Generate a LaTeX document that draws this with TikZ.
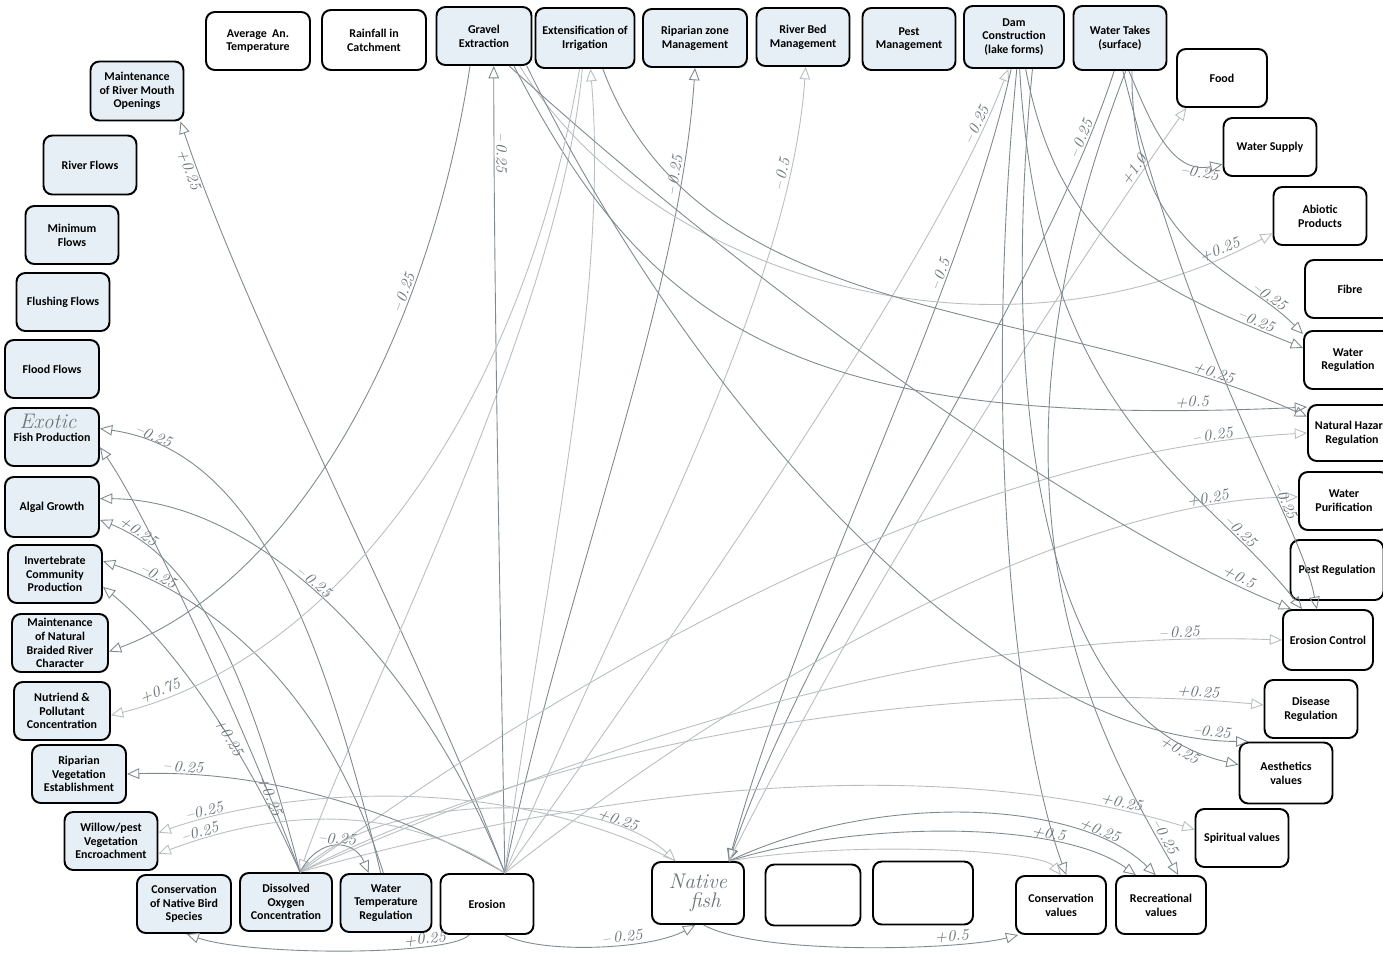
\documentclass[tikz,border=0pt]{standalone}
\usepackage{fontspec}
\usetikzlibrary{arrows.meta}
\newfontfamily\boxsans{Carlito}
\definecolor{paleblue}{HTML}{E6EFF5}
\definecolor{pencil}{HTML}{7F898E}
\tikzset{
  box/.style={draw, line width=1.1pt, rounded corners=5pt, fill=white, align=center,
    minimum width=1.86cm, minimum height=1.16cm, inner sep=1pt,
    font=\boxsans\bfseries\fontsize{6.8}{7.8}\selectfont},
  pale/.style={box, fill=paleblue},
  link/.style={draw=pencil, line width=0.5pt, -{Triangle[open,length=7pt,width=6pt]}},
  faint/.style={link, draw=pencil!55},
  lab/.style={text=pencil!85!black, font=\fontsize{9}{9}\selectfont\itshape, sloped, inner sep=1pt},
  hand/.style={text=pencil!85!black, font=\fontsize{12}{12}\selectfont\itshape}
}
\begin{document}
\begin{tikzpicture}[x=0.02cm, y=-0.02cm]
    \clip (0,0) rectangle (1383,957);
    \fill[white] (0,0) rectangle (1383,957);
    % top row
    \node[box, minimum width=2.08cm] (avgtemp) at (258,41) {Average\ \ An.\\Temperature};
    \node[box, minimum width=2.08cm, minimum height=1.2cm] (rainfall) at (374,40) {Rainfall in\\Catchment};
    \node[pale, minimum width=1.9cm] (gravel) at (484,36) {Gravel\\Extraction};
    \node[pale, minimum width=1.98cm, minimum height=1.2cm] (irrig) at (585,38) {Extensification of\\Irrigation};
    \node[pale, minimum width=2.08cm] (ripzone) at (695,38) {Riparian zone\\Management};
    \node[pale] (riverbed) at (803,37) {River Bed\\Management};
    \node[pale, minimum height=1.24cm] (pestmgmt) at (909,39) {Pest\\Management};
    \node[pale, minimum width=2cm, minimum height=1.24cm] (dam) at (1014,37) {Dam\\Construction\\(lake forms)};
    \node[pale, minimum height=1.28cm] (watertakes) at (1120,38) {Water Takes\\(surface)};
    % right side
    \node[box, minimum width=1.8cm] (food) at (1222,78) {Food};
    \node[box] (watersupply) at (1270,147) {Water Supply};
    \node[box] (abiotic) at (1320,216) {Abiotic\\Products};
    \node[box, minimum width=1.8cm] (fibre) at (1350,289) {Fibre};
    \node[box, minimum width=1.76cm] (waterreg) at (1348,360) {Water\\Regulation};
    \node[box, minimum width=1.76cm, minimum height=1.12cm] (hazard) at (1352,433) {Natural Hazard\\Regulation};
    \node[box, minimum width=1.8cm] (purif) at (1344,501) {Water\\Purification};
    \node[box, minimum height=1.2cm] (pestreg) at (1337,570) {Pest Regulation};
    \node[box, minimum width=1.8cm, minimum height=1.2cm] (erosionctl) at (1328,640) {Erosion Control};
    \node[box] (disease) at (1311,709) {Disease\\Regulation};
    \node[box, minimum height=1.22cm] (aesthetic) at (1286,773) {Aesthetics\\values};
    \node[box] (spiritual) at (1242,838) {Spiritual values};
    \node[box, minimum width=1.8cm] (recreation) at (1161,905) {Recreational\\values};
    \node[box, minimum width=1.8cm] (consval) at (1061,905) {Conservation\\values};
    % bottom row
    \node[box, minimum width=2cm, minimum height=1.26cm] (spare2) at (923,893) {};
    \node[box, minimum width=1.9cm, minimum height=1.22cm] (spare1) at (813,895) {};
    \node[box, minimum width=1.84cm, minimum height=1.24cm, font=\fontsize{12}{11}\selectfont\itshape, text=pencil!85!black] (nativefish) at (698,893) {Native\\\ \ fish};
    \node[box, minimum height=1.2cm] (erosion) at (487,904) {Erosion};
    \node[pale, minimum width=1.82cm] (watertemp) at (386,903) {Water\\Temperature\\Regulation};
    \node[pale, minimum width=1.84cm] (oxygen) at (286,902) {Dissolved\\Oxygen\\Concentration};
    \node[pale, minimum width=1.88cm] (bird) at (184,904) {Conservation\\of Native Bird\\Species};
    % left side
    \node[pale] (willow) at (111,841) {Willow/pest\\Vegetation\\Encroachment};
    \node[pale, minimum width=1.88cm] (ripveg) at (79,774) {Riparian\\Vegetation\\Establishment};
    \node[pale, minimum width=1.92cm] (nutrient) at (62,711) {Nutriend \&\\Pollutant\\Concentration};
    \node[pale, minimum width=1.92cm] (braided) at (60,643) {Maintenance\\of Natural\\Braided River\\Character};
    \node[pale, minimum width=1.88cm] (invert) at (55,574) {Invertebrate\\Community\\Production};
    \node[pale, minimum width=1.88cm, minimum height=1.2cm] (algal) at (52,507) {Algal Growth};
    \node[pale, minimum width=1.88cm] (exotic) at (52,437) {Fish Production};
    \node[hand] (exoticnote) at (48,421) {Exotic};
    \node[pale, minimum width=1.88cm] (flood) at (52,369) {Flood Flows};
    \node[pale] (flushing) at (63,302) {Flushing Flows};
    \node[pale] (minflows) at (72,235) {Minimum\\Flows};
    \node[pale, minimum height=1.18cm] (riverflows) at (90,165) {River Flows};
    \node[pale, minimum height=1.18cm] (mouth) at (137,91) {Maintenance\\of River Mouth\\Openings};

    % links to the top boxes
    \draw[link] (erosion.60) .. controls (420,650) and (250,330) .. (mouth.-35) node[lab,pos=0.93,below]{+0.25};
    \draw[link] (erosion.60) .. controls (500,600) and (494,300) .. (gravel.-72) node[lab,pos=0.88,above]{--\,0.25};
    \draw[link] (gravel.-115) .. controls (430,330) and (300,580) .. (braided.-10) node[lab,pos=0.3,above]{--\,0.25};
    \draw[faint] (erosion.60) .. controls (540,600) and (610,300) .. (irrig.-80);
    \draw[faint] (irrig.-95) .. controls (560,320) and (360,700) .. (oxygen.65);
    \draw[link] (erosion.60) .. controls (560,600) and (680,300) .. (ripzone.south) node[lab,pos=0.85,above]{--\,0.25};
    \draw[faint] (erosion.60) .. controls (620,600) and (790,300) .. (riverbed.-85) node[lab,pos=0.85,above]{--\,0.5};
    \draw[faint] (erosion.60) .. controls (700,600) and (940,250) .. (dam.-100) node[lab,pos=0.9,above]{--\,0.25};
    \draw[link] (dam.-95) .. controls (960,300) and (800,600) .. (nativefish.46) node[lab,pos=0.28,above]{--\,0.5};
    \draw[link] (watertakes.-100) .. controls (1040,300) and (820,600) .. (nativefish.46) node[lab,pos=0.1,above]{--\,0.25};
    \draw[link] (dam.-85) .. controls (980,450) and (1020,750) .. (consval.80);

    % links to the right side
    \draw[faint] (nativefish.46) .. controls (880,560) and (1080,260) .. (food.-140) node[lab,pos=0.87,above]{+1.0};
    \draw[link] (watertakes.-75) .. controls (1150,120) and (1170,175) .. (watersupply.-160) node[lab,pos=0.85,below]{--0.25};
    \draw[faint] (gravel.-40) .. controls (650,280) and (1000,380) .. (abiotic.-160) node[lab,pos=0.94,above]{+0.25};
    \draw[link] (watertakes.-70) .. controls (1130,250) and (1240,270) .. (waterreg.150) node[lab,pos=0.82,above]{--0.25};
    \draw[link] (dam.-70) .. controls (1060,250) and (1160,290) .. (waterreg.165) node[lab,pos=0.88,above]{--0.25};
    \draw[link] (gravel.-45) .. controls (650,330) and (800,430) .. (hazard.150) node[lab,pos=0.92,above]{+0.5};
    \draw[link] (irrig.-60) .. controls (700,330) and (1050,300) .. (hazard.160) node[lab,pos=0.88,above]{+0.25};
    \draw[faint] (oxygen.65) .. controls (650,620) and (1000,450) .. (hazard.180) node[lab,pos=0.9,above]{--\,0.25};
    \draw[faint] (erosion.60) .. controls (800,640) and (1100,500) .. (purif.175) node[lab,pos=0.86,above]{+0.25};
    \draw[link] (watertakes.-85) .. controls (1200,380) and (1300,520) .. (erosionctl.110) node[lab,pos=0.68,above]{--0.25};
    \draw[link] (dam.-80) .. controls (1040,420) and (1200,480) .. (erosionctl.130) node[lab,pos=0.8,above]{--0.25};
    \draw[link] (gravel.-50) .. controls (800,330) and (1120,540) .. (erosionctl.140) node[lab,pos=0.9,above]{+0.5};
    \draw[faint] (oxygen.65) .. controls (700,700) and (1000,630) .. (erosionctl.west) node[lab,pos=0.88,above]{--\,0.25};
    \draw[faint] (oxygen.65) .. controls (600,720) and (1000,680) .. (disease.175) node[lab,pos=0.92,above]{+0.25};
    \draw[link] (gravel.-35) .. controls (700,420) and (1000,740) .. (aesthetic.140) node[lab,pos=0.95,above]{--0.25};
    \draw[link] (dam.-60) .. controls (1000,400) and (1040,720) .. (aesthetic.170) node[lab,pos=0.9,below]{+0.25};
    \draw[faint] (oxygen.65) .. controls (700,760) and (1000,770) .. (spiritual.170) node[lab,pos=0.88,above]{+0.25};
    \draw[link] (watertakes.-80) .. controls (960,500) and (1100,740) .. (recreation.60) node[lab,pos=0.92,above]{--0.25};
    \draw[link] (nativefish.46) .. controls (880,790) and (1080,800) .. (recreation.100) node[lab,pos=0.8,above]{+0.25};
    \draw[link] (nativefish.46) .. controls (860,820) and (1060,820) .. (recreation.130) node[lab,pos=0.72,above]{+0.5};
    \draw[faint] (nativefish.46) .. controls (850,840) and (1040,850) .. (consval.north);

    % links along the bottom
    \draw[link] (nativefish.-80) .. controls (760,956) and (960,950) .. (consval.-145) node[lab,pos=0.75,above]{+0.5};
    \draw[link] (erosion.-60) .. controls (540,954) and (650,950) .. (nativefish.-95) node[lab,pos=0.62,above]{--\,0.25};
    \draw[link] (erosion.-120) .. controls (450,956) and (250,956) .. (bird.-85) node[lab,pos=0.25,above]{+0.25};
    \draw[link] (oxygen.65) .. controls (320,835) and (355,840) .. (watertemp.120) node[lab,pos=0.5,above]{--0.25};
    \draw[faint] (oxygen.65) .. controls (380,790) and (600,790) .. (nativefish.125) node[lab,pos=0.8,above]{+0.25};

    % links to the left side
    \draw[link] (watertemp.100) .. controls (320,620) and (250,450) .. (exotic.10) node[lab,pos=0.88,above]{--0.25};
    \draw[link] (oxygen.65) .. controls (250,740) and (150,520) .. (exotic.-12) node[lab,pos=0.22,right]{+0.25};
    \draw[link] (erosion.60) .. controls (420,660) and (260,500) .. (algal.10) node[lab,pos=0.55,above]{--\,0.25};
    \draw[link] (oxygen.65) .. controls (250,680) and (200,560) .. (algal.-15) node[lab,pos=0.88,above]{+0.25};
    \draw[link] (watertemp.95) .. controls (330,700) and (220,600) .. (invert.15) node[lab,pos=0.85,above]{--0.25};
    \draw[link] (oxygen.65) .. controls (250,760) and (180,650) .. (invert.-15) node[lab,pos=0.35,left]{+0.25};
    \draw[faint] (irrig.-100) .. controls (520,420) and (330,660) .. (nutrient.-5) node[lab,pos=0.92,above]{+0.75};
    \draw[link] (erosion.60) .. controls (380,800) and (250,770) .. (ripveg.0) node[lab,pos=0.85,above]{--\,0.25};
    \draw[faint] (nativefish.125) .. controls (500,770) and (280,790) .. (willow.10) node[lab,pos=0.88,above]{--0.25};
    \draw[faint] (erosion.60) .. controls (380,790) and (250,820) .. (willow.-15) node[lab,pos=0.85,above]{--0.25};
\end{tikzpicture}
\end{document}
